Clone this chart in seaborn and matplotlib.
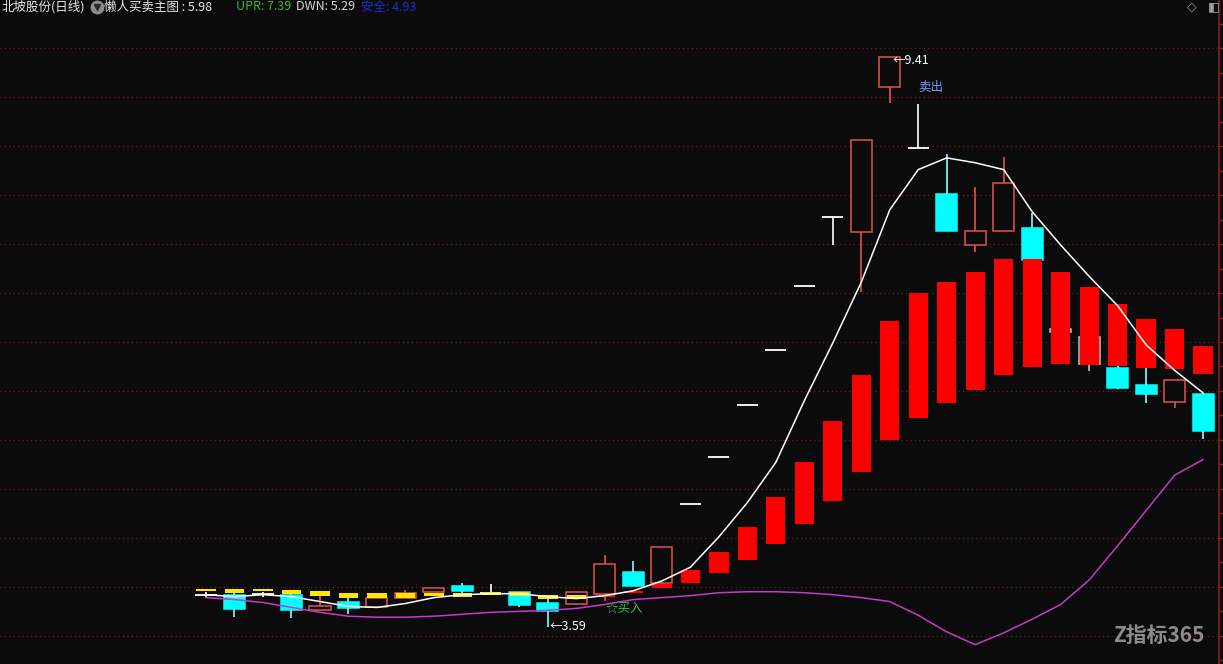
import matplotlib
matplotlib.use('Agg')
import matplotlib.pyplot as plt
from matplotlib.lines import Line2D
import numpy as np
import pandas as pd
import seaborn as sns

# daily candles, bar index 0..35
opens  = [3.92, 3.92, 3.93, 3.92, 3.76, 3.85, 3.79, 3.89, 3.95, 4.01, 3.94, 3.95,
          3.84, 3.82, 3.93, 4.15, 4.04, 4.85, 5.33, 5.86, 6.42, 7.07, 7.78, 7.62,
          9.10, 8.48, 8.01, 7.49, 7.63, 7.66, 6.60, 6.28, 6.23, 6.06, 5.89, 5.97]
highs  = [3.95, 3.95, 3.95, 3.94, 3.91, 3.89, 3.89, 3.97, 3.99, 4.04, 4.03, 3.95,
          3.89, 3.95, 4.33, 4.26, 4.41, 4.85, 5.33, 5.86, 6.42, 7.07, 7.78, 8.56,
          9.41, 8.93, 8.42, 8.08, 8.39, 7.82, 6.63, 6.55, 6.26, 6.23, 6.11, 5.98]
lows   = [3.89, 3.69, 3.90, 3.68, 3.76, 3.72, 3.78, 3.89, 3.95, 3.94, 3.92, 3.79,
          3.59, 3.81, 3.86, 4.01, 4.03, 4.85, 5.33, 5.86, 6.42, 7.07, 7.49, 7.01,
          8.94, 8.48, 7.63, 7.42, 7.63, 7.34, 6.60, 6.20, 6.02, 5.88, 5.83, 5.51]
closes = [3.92, 3.77, 3.93, 3.76, 3.80, 3.78, 3.89, 3.94, 3.99, 3.96, 3.94, 3.81,
          3.75, 3.95, 4.23, 4.01, 4.41, 4.85, 5.33, 5.86, 6.42, 7.07, 7.78, 8.56,
          9.41, 8.48, 7.63, 7.63, 8.12, 7.34, 6.63, 6.55, 6.03, 5.97, 6.11, 5.59]
grey_bars = [30, 31]

# indicator band (bar bottom / top), yellow while flat, red once trending
band_lo = [3.96, 3.94, 3.96, 3.93, 3.91, 3.89, 3.89, 3.89, 3.91, 3.90, 3.92, 3.91,
           3.88, 3.88, 3.90, 3.94, 3.99, 4.04, 4.14, 4.27, 4.44, 4.64, 4.88, 5.17,
           5.50, 5.72, 5.88, 6.01, 6.16, 6.24, 6.28, 6.27, 6.26, 6.23, 6.22, 6.17]
band_hi = [3.98, 3.98, 3.98, 3.97, 3.96, 3.94, 3.94, 3.94, 3.94, 3.94, 3.95, 3.95,
           3.92, 3.92, 3.92, 3.96, 4.03, 4.17, 4.36, 4.61, 4.92, 5.27, 5.69, 6.16,
           6.71, 7.00, 7.11, 7.21, 7.35, 7.35, 7.21, 7.06, 6.89, 6.73, 6.63, 6.46]
n_yellow = 14

# lines
main_line = [3.92, 3.90, 3.92, 3.90, 3.85, 3.80, 3.79, 3.83, 3.89, 3.92, 3.93, 3.93,
             3.90, 3.88, 3.91, 3.96, 4.06, 4.20, 4.51, 4.86, 5.27, 5.90, 6.49, 7.11,
             7.85, 8.26, 8.38, 8.33, 8.26, 7.83, 7.49, 7.17, 6.87, 6.47, 6.21, 5.98]
dwn_line = [3.89, 3.87, 3.84, 3.79, 3.74, 3.70, 3.69, 3.69, 3.70, 3.72, 3.74, 3.75,
            3.76, 3.78, 3.82, 3.87, 3.89, 3.91, 3.94, 3.95, 3.95, 3.94, 3.92, 3.89,
            3.85, 3.71, 3.54, 3.41, 3.53, 3.67, 3.82, 4.07, 4.42, 4.78, 5.14, 5.30]

BG = '#0b0b0b'
RED_EDGE = '#e05252'
CYAN = '#00ffff'
YELLOW = '#ffe800'
RED = '#ff0000'
GRID = '#6e1c1c'

sns.set_theme(style='dark', rc={'axes.facecolor': BG, 'figure.facecolor': BG})
plt.rcParams['font.family'] = ['Noto Sans CJK SC', 'DejaVu Sans']

fig = plt.figure(figsize=(12.23, 6.64), dpi=100)
ax = fig.add_axes([0, 0, 1219 / 1223, 1])
ax.set_facecolor(BG)

x = np.arange(len(closes))
df = pd.DataFrame({'x': x, 'o': opens, 'h': highs, 'l': lows, 'c': closes,
                   'blo': band_lo, 'bhi': band_hi, 'ma': main_line, 'dwn': dwn_line})

# price grid
for p in np.arange(3.5, 10.0, 0.5):
    ax.axhline(p, color=GRID, lw=0.9, ls=(0, (1, 2.5)), zorder=0)

cw = 0.74
for r in df.itertuples():
    lo_b, hi_b = min(r.o, r.c), max(r.o, r.c)
    if r.x in grey_bars:
        col, face = '#c0c0c0', 'none'
    elif r.c > r.o:
        col, face = RED_EDGE, BG
    elif r.c < r.o:
        col, face = CYAN, CYAN
    else:
        col, face = 'white', None
    if face is None:
        # doji / one-price bar
        ax.hlines(r.c, r.x - cw / 2, r.x + cw / 2, color=col, lw=1.3, zorder=2)
        if r.h > r.l:
            ax.vlines(r.x, r.l, r.h, color=col, lw=1.2, zorder=2)
        continue
    ax.bar(r.x, hi_b - lo_b, bottom=lo_b, width=cw, facecolor=face,
           edgecolor=col, lw=1.1, zorder=2)
    wick = '#7fffff' if col == CYAN else col
    if r.h > hi_b:
        ax.vlines(r.x, hi_b, r.h, color=wick, lw=1.2, zorder=2)
    if r.l < lo_b:
        ax.vlines(r.x, r.l, lo_b, color=wick, lw=1.2, zorder=2)

# indicator band
band_cols = [YELLOW] * n_yellow + [RED] * (len(x) - n_yellow)
ax.bar(df['x'], df['bhi'] - df['blo'], bottom=df['blo'], width=0.68,
       color=band_cols, lw=0, zorder=3)

sns.lineplot(data=df, x='x', y='ma', color='white', lw=1.1, ax=ax, zorder=4)
sns.lineplot(data=df, x='x', y='dwn', color='#c23cc8', lw=1.1, ax=ax, zorder=4)

# annotations
ax.text(24.1, 9.37, '←9.41', color='white', fontsize=9, va='center', ha='left')
ax.text(25.45, 9.10, '卖出', color='#7a96ff', fontsize=9, va='center', ha='center')
ax.text(12.05, 3.59, '←3.59', color='white', fontsize=9, va='center', ha='left')
ax.text(14.02, 3.78, '☆买入', color='#35c040', fontsize=9, va='center', ha='left')

ax.set_xlim(-206 / 28.49, (1219 - 206) / 28.49)
ax.set_ylim(3.59 - 37 / 97.94, 3.59 + 627 / 97.94)
ax.set_xlabel('')
ax.set_ylabel('')
ax.set_xticks([])
ax.yaxis.tick_right()
ax.set_yticks(np.arange(3.25, 10.0, 0.25))
ax.tick_params(axis='y', colors='#8a1c1c', length=3, width=1, direction='out',
               labelright=False, right=True, left=False)
for s in ['top', 'left', 'bottom']:
    ax.spines[s].set_visible(False)
ax.spines['right'].set_color('#8a1c1c')
ax.spines['right'].set_linewidth(1.2)
ax.grid(False)

# header line
ty = 1 - 7 / 664
fig.text(2 / 1223, ty, '北坡股份(日线)', color='#e8e8e8', fontsize=9, va='center')
# dropdown icon (grey disc with a dark chevron)
fig.add_artist(Line2D([97 / 1223], [ty], marker='o', ms=9, color='#8c8c8c',
                      transform=fig.transFigure))
fig.add_artist(Line2D([97 / 1223], [ty], marker='v', ms=4, color='#2a2a2a',
                      transform=fig.transFigure))
fig.text(104 / 1223, ty, '懒人买卖主图 : 5.98', color='#e8e8e8', fontsize=9, va='center')
fig.text(236 / 1223, ty, 'UPR: 7.39', color='#3cb43c', fontsize=9, va='center')
fig.text(296 / 1223, ty, 'DWN: 5.29', color='#d8d8d8', fontsize=9, va='center')
fig.text(361 / 1223, ty, '安全: 4.93', color='#1c2ed0', fontsize=9, va='center')
fig.text(1187 / 1223, ty, '◇', color='#9a9a9a', fontsize=9, va='center', family='DejaVu Sans')
fig.text(1208 / 1223, ty, '◧', color='#9a9a9a', fontsize=9, va='center', family='DejaVu Sans')

# watermark
fig.text(1113 / 1223, 1 - 635 / 664, 'Z指标365', color='#8c8c8c', fontsize=15,
         fontweight='bold', va='center', ha='left')

fig.savefig('out.png', dpi=100, facecolor=BG)
